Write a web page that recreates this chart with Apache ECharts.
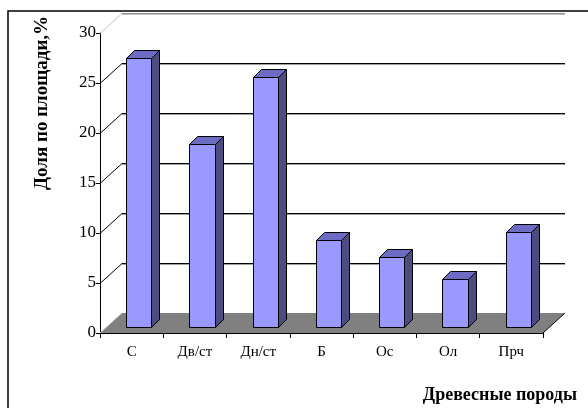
<!DOCTYPE html>
<html>
<head>
<meta charset="utf-8">
<script src="https://cdn.jsdelivr.net/npm/echarts@6/dist/echarts.min.js"></script>
<style>
  html, body { margin: 0; padding: 0; background: #fff; }
  #chart { width: 588px; height: 408px; }
</style>
</head>
<body>
<div id="chart"></div>
<script>
// Tree species and their share of the forested area, %
const categories = ['С', 'Дв/ст', 'Дн/ст', 'Б', 'Ос', 'Ол', 'Прч'];
const shares = [26.9, 18.3, 25.0, 8.7, 7.0, 4.8, 9.5];
const yTicks = [0, 5, 10, 15, 20, 25, 30];

// Pseudo-3D depth of the plot box (back wall offset) and of each column
const WALL_DX = 22, WALL_DY = -20;
const BAR_DX = 7, BAR_DY = -6;      // front face of a column, pushed into the box
const BAR_DEPTH_X = 8, BAR_DEPTH_Y = -8;
const FONT = '"Liberation Serif", "Times New Roman", serif';

const chart = echarts.init(document.getElementById('chart'), null, { renderer: 'canvas' });

function floorItem(params, api) {
  const cs = params.coordSys;
  const y0 = api.coord([0, 0])[1];
  const xl = cs.x, xr = cs.x + cs.width;
  return {
    type: 'group',
    children: [
      {
        type: 'polygon',
        shape: { points: [[xl, y0], [xr, y0], [xr + WALL_DX, y0 + WALL_DY], [xl + WALL_DX, y0 + WALL_DY]] },
        style: { fill: '#808080', stroke: null }
      },
      {
        type: 'line',
        shape: { x1: xl, y1: y0, x2: xl + WALL_DX, y2: y0 + WALL_DY },
        style: { stroke: '#c8c8c8', lineWidth: 1 }
      },
      {
        type: 'line',
        shape: { x1: xr, y1: y0, x2: xr + WALL_DX, y2: y0 + WALL_DY },
        style: { stroke: '#000', lineWidth: 1 }
      }
    ]
  };
}

function wallItem(params, api) {
  const cs = params.coordSys;
  const t = api.value(1);
  if (t === 0) return null;
  const y = Math.round(api.coord([0, t])[1]);
  const xl = cs.x, xr = cs.x + cs.width;
  const yb = y + WALL_DY + 0.5;
  const top = t === yTicks[yTicks.length - 1];
  return {
    type: 'group',
    children: [
      {
        type: 'line',
        shape: { x1: xl, y1: y + 0.5, x2: xl + WALL_DX, y2: yb },
        style: { stroke: top ? '#c0c0c0' : '#000', lineWidth: 1 }
      },
      {
        type: 'line',
        shape: { x1: xl + WALL_DX, y1: yb + 1, x2: xr + WALL_DX, y2: yb + 1 },
        style: { stroke: top ? '#c0c0c0' : '#a0a0a0', lineWidth: 1 }
      },
      {
        type: 'line',
        shape: { x1: xl + WALL_DX, y1: yb, x2: xr + WALL_DX, y2: yb },
        style: { stroke: top ? '#909090' : '#000', lineWidth: 1 }
      }
    ]
  };
}

function barItem(params, api) {
  const i = api.value(0);
  const v = api.value(1);
  const base = api.coord([i, 0]);
  const topPt = api.coord([i, v]);
  const w = api.size([1, 0])[0] * 0.4;
  const x0 = Math.round(base[0] - w / 2 + BAR_DX) + 0.5;
  const x1 = Math.round(base[0] + w / 2 + BAR_DX) + 0.5;
  const yB = Math.round(base[1] + BAR_DY) + 0.5;
  const yT = Math.round(topPt[1] + BAR_DY) + 0.5;
  const dx = BAR_DEPTH_X, dy = BAR_DEPTH_Y;
  const edge = { stroke: '#000', lineWidth: 1, lineJoin: 'miter' };
  return {
    type: 'group',
    children: [
      {
        type: 'polygon',
        shape: { points: [[x1, yT], [x1 + dx, yT + dy], [x1 + dx, yB + dy], [x1, yB]] },
        style: Object.assign({ fill: '#4c4c80' }, edge)
      },
      {
        type: 'polygon',
        shape: { points: [[x0, yT], [x1, yT], [x1 + dx, yT + dy], [x0 + dx, yT + dy]] },
        style: Object.assign({ fill: '#6c6cc4' }, edge)
      },
      {
        type: 'rect',
        shape: { x: x0, y: yT, width: x1 - x0, height: yB - yT },
        style: Object.assign({ fill: '#9999ff' }, edge)
      }
    ]
  };
}

const option = {
  backgroundColor: '#fff',
  animation: false,
  grid: { left: 100, right: 45, top: 33, bottom: 75, containLabel: false },
  xAxis: {
    type: 'category',
    data: categories,
    boundaryGap: true,
    axisLine: { show: true, lineStyle: { color: '#000', width: 1 } },
    axisTick: { show: true, length: 5, lineStyle: { color: '#000' } },
    axisLabel: { color: '#000', fontFamily: FONT, fontSize: 15, margin: 12 },
    splitLine: { show: false }
  },
  yAxis: {
    type: 'value',
    min: 0,
    max: 30,
    interval: 5,
    axisLine: { show: true, lineStyle: { color: '#000', width: 1 } },
    axisTick: { show: true, length: 4, lineStyle: { color: '#000' } },
    axisLabel: { color: '#000', fontFamily: FONT, fontSize: 17, margin: 4 },
    splitLine: { show: false }
  },
  graphic: [
    {
      type: 'rect',
      shape: { x: 8, y: 11, width: 700, height: 500 },
      style: { fill: null, stroke: '#000', lineWidth: 1.5 },
      z: 10
    },
    {
      type: 'text',
      x: 42, y: 103,
      rotation: Math.PI / 2,
      style: {
        text: 'Доля по площади,%',
        fontFamily: FONT, fontSize: 19, fontWeight: 'bold', fill: '#000',
        align: 'center', verticalAlign: 'middle'
      }
    },
    {
      type: 'text',
      x: 577, y: 395,
      style: {
        text: 'Древесные породы',
        fontFamily: FONT, fontSize: 18, fontWeight: 'bold', fill: '#000',
        align: 'right', verticalAlign: 'middle'
      }
    }
  ],
  series: [
    {
      type: 'custom',
      name: 'floor',
      renderItem: floorItem,
      data: [[0, 0]],
      z: 1,
      silent: true
    },
    {
      type: 'custom',
      name: 'wall',
      renderItem: wallItem,
      data: yTicks.map(t => [0, t]),
      z: 1,
      silent: true
    },
    {
      type: 'custom',
      name: 'Доля по площади',
      renderItem: barItem,
      data: shares.map((v, i) => [i, v]),
      z: 3
    }
  ]
};

chart.setOption(option);
</script>
</body>
</html>
